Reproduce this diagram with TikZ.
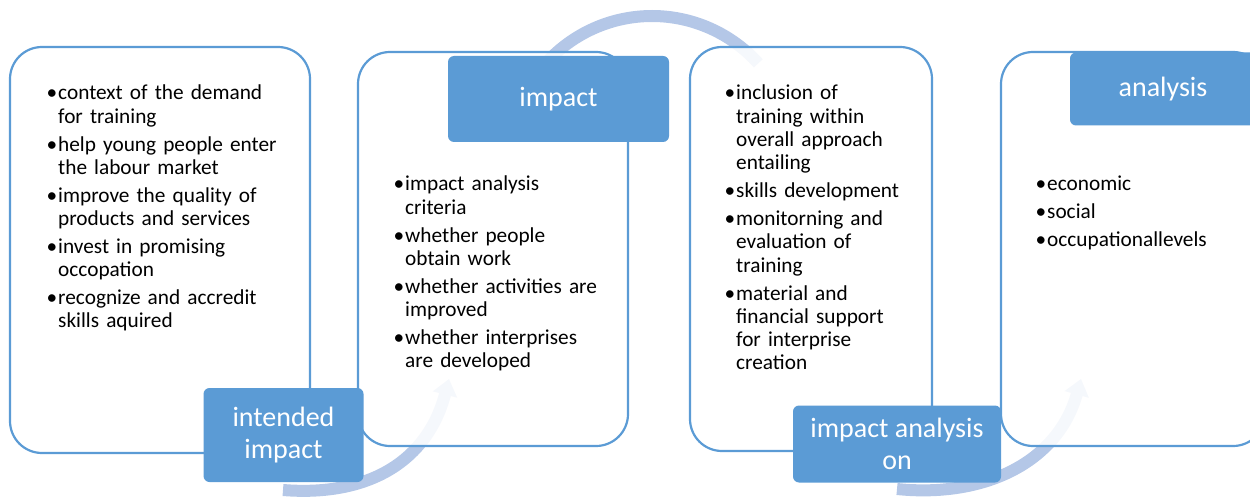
\documentclass[tikz,border=0pt]{standalone}
\usepackage{fontspec}
\setmainfont{Carlito}
\usetikzlibrary{arrows.meta}

\definecolor{accent}{RGB}{91,155,213}
\definecolor{flow}{RGB}{180,199,231}

% one bullet item with a hanging indent
\newcommand\bul[1]{\par\hangindent=10pt\hangafter=1\noindent\makebox[10pt][l]{\hspace{-1.5pt}\textbullet}#1\par}

\tikzset{
  panel/.style={draw=accent, line width=2.2pt, fill=white, fill opacity=0.88,
                rounded corners=32pt, inner sep=0pt},
  tag/.style={fill=accent, text=white, rounded corners=6pt, inner sep=0pt,
              align=center, font=\fontsize{28}{32}\selectfont},
  listtext/.style={anchor=base west, inner sep=0pt, text width=250pt,
                   font=\fontsize{21.3}{23.3}\selectfont\raggedright\setlength\parskip{4.6pt}},
  flowband/.style={draw=flow, line width=12pt},
  flowarc/.style={flowband, -{Triangle[width=24pt,length=16pt]}}
}

\begin{document}
\begin{tikzpicture}[x=1pt,y=1pt]
\useasboundingbox (0,0) rectangle (1250,-497);

% curved flow arrows, drawn first so the panels veil them
\draw[flowarc] (283,-490) .. controls (370,-497) and (428,-460) .. (449,-379);
\draw[flowband] (652,-159) ++(150:143) arc[start angle=150, end angle=42, radius=143];
\draw[flowarc] (897,-489) .. controls (985,-498) and (1058,-462) .. (1081,-379);

% panels
\node[panel, minimum width=300pt, minimum height=406pt] (b1) at (160,-250) {};
\node[panel, minimum width=270pt, minimum height=394pt] (b2) at (493,-249) {};
\node[panel, minimum width=242pt, minimum height=404pt] (b3) at (811,-249) {};
\node[panel, minimum width=264pt, minimum height=394pt] (b4) at (1133,-249) {};

% panel contents
\node[listtext] (t1) at (48,-72) {%
  \bul{context of the demand\newline for training}%
  \bul{help young people enter\newline the labour market}%
  \bul{improve the quality of\newline products and services}%
  \bul{invest in promising\newline occopation}%
  \bul{recognize and accredit\newline skills aquired}};
\node[listtext] (t2) at (395,-163) {%
  \bul{impact analysis\newline criteria}%
  \bul{whether people\newline obtain work}%
  \bul{whether activities are\newline improved}%
  \bul{whether interprises\newline are developed}};
\node[listtext] (t3) at (726,-72) {%
  \bul{inclusion of\newline training within\newline overall approach\newline entailing}%
  \bul{skills development}%
  \bul{monitorning and\newline evaluation of\newline training}%
  \bul{material and\newline financial support\newline for interprise\newline creation}};
\node[listtext] (t4) at (1037,-163) {%
  \bul{economic}%
  \bul{social}%
  \bul{occupationallevels}};

% heading tags
\node[tag, minimum width=160pt, minimum height=94pt] (l1) at (283.5,-435) {intended\\impact};
\node[tag, minimum width=221pt, minimum height=86pt] (l2) at (558.5,-99) {impact};
\node[tag, minimum width=208pt, minimum height=77pt] (l3) at (897,-444) {impact analysis\\on};
\node[tag, minimum width=186pt, minimum height=73pt] (l4) at (1163,-89) {analysis};
\end{tikzpicture}
\end{document}
